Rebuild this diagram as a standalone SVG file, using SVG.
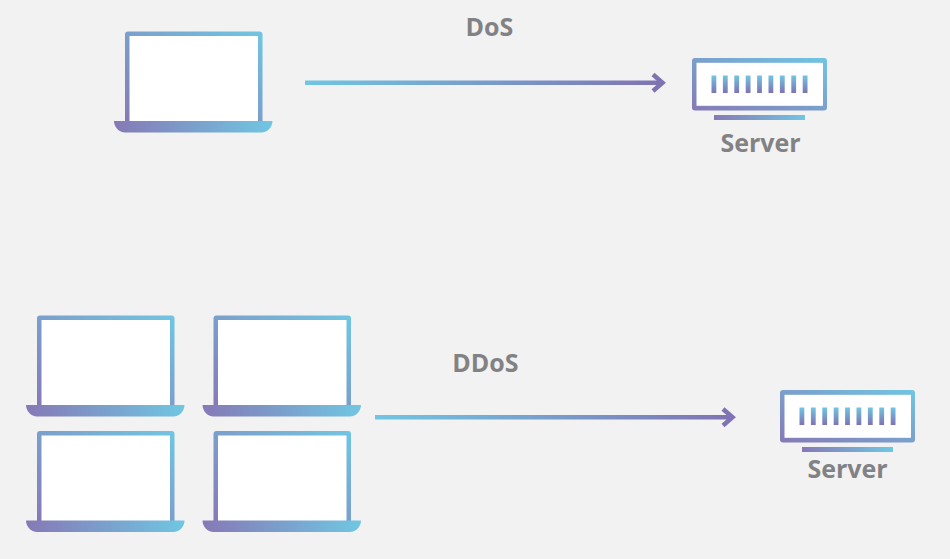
<svg xmlns="http://www.w3.org/2000/svg" xmlns:xlink="http://www.w3.org/1999/xlink" width="950" height="559" viewBox="0 0 950 559">
<style>
.lbl{font-family:"Open Sans","Liberation Sans",sans-serif;font-weight:700;font-size:25px;fill:#828285;text-anchor:middle}
.white{fill:#fff}
.head{fill:none;stroke:#7f73b3;stroke-width:4.5}
</style>
<defs>
<linearGradient id="diag" x1="0" y1="1" x2="1" y2="0"><stop offset="0" stop-color="#8679b6"/><stop offset="1" stop-color="#70c6e2"/></linearGradient>
<linearGradient id="horiz" x1="0" y1="0" x2="1" y2="0"><stop offset="0" stop-color="#8679b6"/><stop offset="1" stop-color="#70c6e2"/></linearGradient>
<linearGradient id="line" x1="0" y1="0" x2="1" y2="0"><stop offset="0" stop-color="#70c6e2"/><stop offset="1" stop-color="#7f73b3"/></linearGradient>
<linearGradient id="bar" x1="0" y1="0" x2="0" y2="1"><stop offset="0" stop-color="#70c6e2"/><stop offset="1" stop-color="#7f73b3"/></linearGradient>
<g id="laptop">
<path d="M0 90V3a3 3 0 0 1 3-3H134.500a3 3 0 0 1 3 3V90Z" fill="url(#diag)"/>
<rect class="white" x="4.500" y="4.500" width="128.500" height="85.500"/>
<path d="M-11 89.500H147.500c0 6-5 11.500-11 11.500H0C-6 101-11 95.500-11 89.500Z" fill="url(#horiz)"/>
</g>
<g id="server">
<rect width="135" height="52.500" rx="3" fill="url(#diag)"/>
<rect class="white" x="4.500" y="4.800" width="126.500" height="43"/>
<g fill="url(#bar)">
<rect x="19.500" y="17.500" width="4.800" height="17.500"/><rect x="30.900" y="17.500" width="4.800" height="17.500"/><rect x="42.300" y="17.500" width="4.800" height="17.500"/><rect x="53.700" y="17.500" width="4.800" height="17.500"/><rect x="65.100" y="17.500" width="4.800" height="17.500"/><rect x="76.500" y="17.500" width="4.800" height="17.500"/><rect x="87.900" y="17.500" width="4.800" height="17.500"/><rect x="99.300" y="17.500" width="4.800" height="17.500"/><rect x="110.700" y="17.500" width="4.800" height="17.500"/>
</g>
<rect x="22" y="57" width="91" height="5" fill="url(#horiz)"/>
</g>
</defs>
<rect width="950" height="559" fill="#f2f2f2"/>
<g id="connectors">
<g id="dos-arrow"><rect x="305" y="80.500" width="357" height="4.500" fill="url(#line)"/><path class="head" d="M653 74.500L662.500 82.800L653 91"/></g>
<g id="ddos-arrow"><rect x="375" y="415" width="357" height="4.500" fill="url(#line)"/><path class="head" d="M723 409L732.500 417.300L723 425.500"/></g>
</g>
<g id="dos-client"><use xlink:href="#laptop" href="#laptop" x="125" y="31.500"/></g>
<g id="dos-server"><use xlink:href="#server" href="#server" x="692" y="58"/><text class="lbl" x="760.500" y="151.500">Server</text></g>
<g id="dos-label"><text class="lbl" x="489.500" y="35.500">DoS</text></g>
<g id="ddos-client-1"><use xlink:href="#laptop" href="#laptop" x="37" y="315.500"/></g>
<g id="ddos-client-2"><use xlink:href="#laptop" href="#laptop" x="213.500" y="315.500"/></g>
<g id="ddos-client-3"><use xlink:href="#laptop" href="#laptop" x="37" y="431"/></g>
<g id="ddos-client-4"><use xlink:href="#laptop" href="#laptop" x="213.500" y="431"/></g>
<g id="ddos-label"><text class="lbl" x="485.500" y="371.500">DDoS</text></g>
<g id="ddos-server"><use xlink:href="#server" href="#server" x="780" y="390"/><text class="lbl" x="847.500" y="477.500">Server</text></g>
</svg>
